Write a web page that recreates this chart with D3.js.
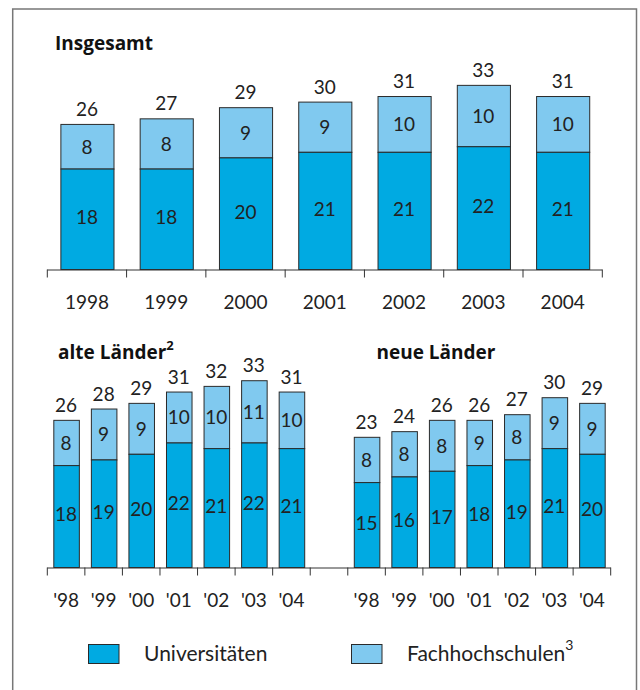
<!DOCTYPE html>
<html lang="de">
<head>
  <meta charset="utf-8" />
  <title>Studienanfänger Universitäten / Fachhochschulen</title>
  <style>
    html,body{margin:0;padding:0;background:#fff;}
    svg{display:block;font-family:Lato,"Open Sans",sans-serif;}
    .num{font-size:19px;fill:#222;}
    .leg{font-size:21px;fill:#222;}
    .title{font-size:19px;font-weight:700;fill:#111;font-family:"Open Sans",Lato,sans-serif;}
    .axis text{font-size:19px;fill:#222;font-family:Lato,"Open Sans",sans-serif;}
    .axis path,.axis line{stroke:none;}
  </style>
</head>
<body>
<svg id="chart" width="640" height="690"></svg>
<script src="https://d3js.org/d3.v7.min.js"></script>
<script>
  // ---- data ----
  const years      = ['1998','1999','2000','2001','2002','2003','2004'];
  const shortYears = ["'98","'99","'00","'01","'02","'03","'04"];

  const gesUni   = [18,18,20,21,21,22,21];
  const gesFH    = [8,8,9,9,10,10,10];
  const gesTotal = [26,27,29,30,31,33,31];

  const alteUni   = [18,19,20,22,21,22,21];
  const alteFH    = [8,9,9,10,10,11,10];
  const alteTotal = [26,28,29,31,32,33,31];

  const neueUni   = [15,16,17,18,19,21,20];
  const neueFH    = [8,8,8,9,8,9,9];
  const neueTotal = [23,24,26,26,27,30,29];

  const legendLabels = ['Universitäten','Fachhochschulen'];

  const COL_UNI = '#00aae2', COL_FH = '#80c9ef', COL_EDGE = '#2a2a2a';

  const svg = d3.select('#chart');

  // frame
  svg.append('path')
    .attr('d','M12.7,700 V9 H636.5 V700')
    .attr('fill','none').attr('stroke','#777').attr('stroke-width',1.5);

  // ---- panel drawing ----
  function panel(opts){
    const {keys, labels, uni, fh, total, x, base, k} = opts;
    const y = d3.scaleLinear().domain([0,40]).range([base, base-40*k]);
    const g = svg.append('g');
    const bw = x.bandwidth();

    const rows = keys.map((key,i)=>({key,uni:uni[i],fh:fh[i],total:total[i]}));

    // FH segment (from uni up to total)
    g.selectAll('rect.fh').data(rows).join('rect').attr('class','fh')
      .attr('x',d=>x(d.key)+0.5).attr('width',bw)
      .attr('y',d=>y(d.total)).attr('height',d=>y(d.uni)-y(d.total))
      .attr('fill',COL_FH).attr('stroke',COL_EDGE).attr('stroke-width',1);
    // Uni segment
    g.selectAll('rect.uni').data(rows).join('rect').attr('class','uni')
      .attr('x',d=>x(d.key)+0.5).attr('width',bw)
      .attr('y',d=>y(d.uni)).attr('height',d=>y(0)-y(d.uni))
      .attr('fill',COL_UNI).attr('stroke',COL_EDGE).attr('stroke-width',1);

    // labels
    g.selectAll('text.tot').data(rows).join('text').attr('class','num tot')
      .attr('x',d=>x(d.key)+bw/2).attr('y',d=>y(d.total)-8.5)
      .attr('text-anchor','middle').text(d=>d.total);
    g.selectAll('text.fhv').data(rows).join('text').attr('class','num fhv')
      .attr('x',d=>x(d.key)+bw/2).attr('y',d=>(y(d.total)+y(d.uni))/2)
      .attr('dy','0.36em').attr('text-anchor','middle').text(d=>d.fh);
    g.selectAll('text.univ').data(rows).join('text').attr('class','num univ')
      .attr('x',d=>x(d.key)+bw/2).attr('y',d=>(y(d.uni)+y(0))/2-2)
      .attr('dy','0.36em').attr('text-anchor','middle').text(d=>d.uni);

    // category labels
    const ax = d3.axisBottom(x).tickSize(0).tickPadding(26.5)
      .tickFormat(key=>labels[keys.indexOf(key)] || '');
    svg.append('g').attr('class','axis').attr('transform',`translate(0,${base})`).call(ax);
  }

  function baseline(x, base){
    const [r0,r1] = x.range();
    const step = x.step();
    const n = x.domain().length;
    const gl = svg.append('g').attr('stroke','#333').attr('stroke-width',1);
    gl.append('line').attr('x1',r0).attr('x2',r1).attr('y1',base+0.5).attr('y2',base+0.5);
    gl.selectAll('line.t').data(d3.range(n+1)).join('line').attr('class','t')
      .attr('x1',i=>r0+i*step).attr('x2',i=>r0+i*step)
      .attr('y1',base).attr('y2',base+8);
  }

  // Insgesamt
  const xTop = d3.scaleBand().domain(years).range([47.3,602.3]).paddingInner(0.33).paddingOuter(0.165);
  panel({keys:years, labels:years, uni:gesUni, fh:gesFH, total:gesTotal, x:xTop, base:269.5, k:5.58});
  baseline(xTop, 269.5);

  // alte / neue Länder share one axis with an empty slot between
  const alteKeys = years.map(y=>'a'+y), neueKeys = years.map(y=>'n'+y);
  const xBot = d3.scaleBand().domain([...alteKeys,'gap',...neueKeys])
    .range([47.3,610.7]).paddingInner(0.32).paddingOuter(0.16);
  panel({keys:alteKeys, labels:shortYears, uni:alteUni, fh:alteFH, total:alteTotal, x:xBot, base:567.5, k:5.66});
  panel({keys:neueKeys, labels:shortYears, uni:neueUni, fh:neueFH, total:neueTotal, x:xBot, base:567.5, k:5.66});
  baseline(xBot, 567.5);

  // titles
  svg.append('text').attr('class','title').attr('x',55).attr('y',50).text('Insgesamt');
  const t2 = svg.append('text').attr('class','title').attr('x',58).attr('y',359).text('alte Länder');
  t2.append('tspan').attr('dy',-9).style('font-size','13px').text('2');
  svg.append('text').attr('class','title').attr('x',376.5).attr('y',359).text('neue Länder');

  // legend
  const leg = svg.append('g');
  const legX = [88.5, 351.5];
  [COL_UNI, COL_FH].forEach((c,i)=>{
    leg.append('rect').attr('x',legX[i]).attr('y',644.5).attr('width',30.5).attr('height',19)
      .attr('fill',c).attr('stroke',COL_EDGE).attr('stroke-width',1);
    const t = leg.append('text').attr('class','leg').attr('x',legX[i]+55.5).attr('y',661)
      .text(legendLabels[i]);
    if(i===1) t.append('tspan').attr('dy',-11).style('font-size','14px').text('3');
  });
</script>
</body>
</html>
